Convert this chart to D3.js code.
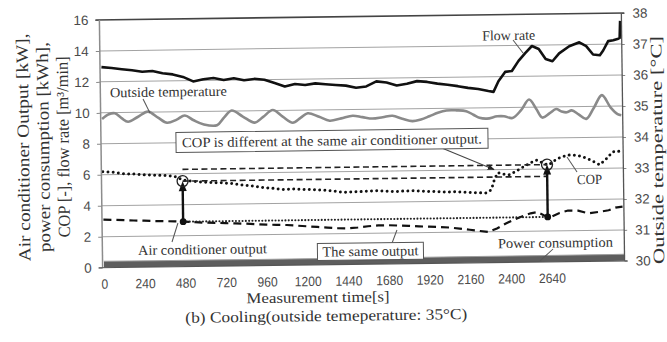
<!DOCTYPE html>
<html><head><meta charset="utf-8">
<script src="https://cdn.jsdelivr.net/npm/d3@7"></script>
<style>html,body{margin:0;padding:0;background:#fff;}svg{display:block;}</style>
</head><body>
<svg id="chart" width="667" height="342"></svg>
<script>
// ---------------- data ----------------
const xTicks = [0,240,480,720,960,1200,1440,1680,1920,2160,2400,2640];
const yLeftTicks = [0,2,4,6,8,10,12,14,16];
const yRightTicks = [30,31,32,33,34,35,36,37,38];

const flowTime = [0,60,120,180,240,300,360,420,480,540,600,660,720,780,840,900,960,1020,1080,1140,1200,1260,1320,1380,1440,1500,1560,1620,1680,1740,1800,1860,1920,1980,2040,2100,2160,2220,2280,2310,2340,2380,2420,2460,2500,2540,2580,2620,2660,2700,2760,2820,2860,2900,2940,2960,2990,3020,3050,3058,3062];
const flowRate = [12.95,12.88,12.8,12.72,12.62,12.66,12.5,12.42,12.25,11.95,12.08,12.15,12.02,12.12,11.98,12.06,12.0,11.78,11.55,11.7,11.62,11.72,11.66,11.6,11.55,11.4,11.48,11.8,11.72,11.52,11.62,11.78,11.72,11.6,11.52,11.42,11.3,11.22,11.08,11.02,11.7,12.3,12.35,13.0,13.5,13.95,13.75,13.1,12.95,13.45,13.9,14.15,13.9,13.35,13.3,13.6,14.2,14.25,14.35,14.4,15.5];

const tempTime = [0,40,76,115,153,210,271,330,383,440,488,540,600,677,720,765,830,900,950,1007,1065,1124,1170,1213,1280,1342,1410,1478,1535,1595,1655,1713,1770,1830,1880,1930,1980,2031,2090,2148,2190,2225,2270,2330,2370,2420,2470,2519,2560,2596,2640,2678,2710,2740,2770,2810,2855,2900,2949,3000,3040,3062];
const outsideTemp = [34.8,34.95,34.98,34.82,34.7,34.85,35.02,34.82,34.65,34.75,34.88,34.72,34.58,34.55,34.8,35.02,34.82,34.62,34.8,35.02,34.8,34.6,34.75,34.9,34.78,34.65,34.72,34.8,34.75,34.7,34.74,34.78,34.68,34.6,34.65,34.75,34.86,34.93,34.93,34.9,34.78,34.68,34.65,34.72,34.72,34.66,34.9,35.25,34.95,34.66,34.8,34.93,34.85,34.82,34.88,34.75,34.6,34.95,35.36,34.95,34.74,34.7];

const copTime = [0,60,120,180,240,300,360,420,470,520,580,640,700,760,820,880,940,1000,1060,1120,1180,1240,1300,1360,1420,1480,1540,1600,1660,1720,1780,1840,1900,1960,2020,2080,2140,2200,2260,2290,2310,2330,2360,2400,2440,2480,2520,2560,2600,2630,2680,2740,2800,2855,2900,2931,2970,3008,3040,3062];
const cop = [6.2,6.15,6.05,6.02,5.96,5.93,5.9,5.85,5.6,5.52,5.45,5.4,5.38,5.32,5.22,5.15,5.05,4.98,4.9,4.92,4.88,4.86,4.82,4.75,4.66,4.68,4.7,4.74,4.7,4.66,4.7,4.7,4.66,4.63,4.6,4.6,4.56,4.52,4.5,4.7,5.4,5.8,5.7,5.65,5.9,6.15,6.4,6.58,6.35,6.25,6.65,6.88,6.85,6.65,6.4,6.22,6.6,7.05,7.1,6.95];

const outTime = [0,60,120,180,240,300,360,420,480,540,600,660,720,780,840,900,960,1020,1080,1140,1200,1260,1320,1380,1440,1500,1560,1620,1680,1740,1800,1860,1920,1980,2040,2100,2160,2220,2270,2320,2370,2420,2460,2520,2560,2600,2637,2690,2740,2800,2860,2920,2980,3020,3062];
const acOutput = [3.1,3.08,3.05,3.02,3.0,2.97,2.95,2.93,2.9,2.86,2.82,2.8,2.77,2.75,2.72,2.68,2.64,2.62,2.6,2.55,2.5,2.45,2.4,2.35,2.33,2.38,2.45,2.5,2.5,2.47,2.44,2.4,2.37,2.34,2.3,2.22,2.14,2.05,1.98,2.2,2.5,2.75,2.92,3.15,3.22,3.0,2.89,3.15,3.3,3.28,3.1,3.18,3.28,3.45,3.5];

const powerTime = [0,300,600,900,1200,1500,1800,2100,2400,2700,3000,3070];
const powerCons = [0.42,0.41,0.41,0.4,0.4,0.4,0.4,0.41,0.41,0.42,0.42,0.42];

// comparison markers: same output, different COP
const markTime = [470, 2620];
const markCop = [5.52, 6.28];
const sameOutput = 2.9;

// ---------------- layout ----------------
const L = 101, R = 623, T = 16.5, B = 264.3;
const x = d3.scaleLinear().domain([0, 3070]).range([102.4, 623]);
const y = d3.scaleLinear().domain([0, 16]).range([B, T]);
const y2 = d3.scaleLinear().domain([30, 38]).range([B, T]);

const svg = d3.select('#chart');
svg.append('rect').attr('width', 667).attr('height', 342).attr('fill', '#ffffff');
const defs = svg.append('defs');
defs.append('clipPath').attr('id', 'plotclip').append('rect')
  .attr('x', L).attr('y', T - 12).attr('width', R - L).attr('height', B - T + 12);
defs.append('marker').attr('id', 'arr').attr('viewBox', '0 0 10 10')
  .attr('refX', 9).attr('refY', 5).attr('markerWidth', 7).attr('markerHeight', 7)
  .attr('markerUnits', 'userSpaceOnUse').attr('orient', 'auto')
  .append('path').attr('d', 'M0,1 L10,5 L0,9 Z').attr('fill', '#222');

const g = svg.append('g').attr('transform', 'rotate(-0.75,361,141)');
const serif = "'Liberation Serif','Times New Roman',serif";
const sans = "'Liberation Sans',Arial,sans-serif";

// gridlines
g.append('g').selectAll('line').data(yLeftTicks.filter(v => v > 0 && v < 16)).join('line')
  .attr('x1', L).attr('x2', R).attr('y1', d => y(d)).attr('y2', d => y(d))
  .attr('stroke', '#a3a3a3').attr('stroke-width', 1);

// axes
const axL = g.append('g').attr('transform', `translate(${L},0)`)
  .call(d3.axisLeft(y).tickValues(yLeftTicks).tickFormat(d3.format('d')).tickSize(4).tickPadding(7));
const axR = g.append('g').attr('transform', `translate(${R},0)`)
  .call(d3.axisRight(y2).tickValues(yRightTicks).tickFormat(d3.format('d')).tickSize(3).tickPadding(8));
const axB = g.append('g').attr('transform', `translate(0,${B})`)
  .call(d3.axisBottom(x).tickValues(xTicks).tickFormat(d3.format('d')).tickSize(0).tickPadding(11.5));
[axL, axR, axB].forEach(a => {
  a.select('.domain').remove();
  a.selectAll('line').attr('stroke', '#888');
  a.selectAll('text').attr('font-family', sans).attr('font-size', 13.5).attr('fill', '#4a4a4a')
    .attr('textLength', function () { return this.textContent.length * (a === axB ? 6.75 : 7.5); })
    .attr('lengthAdjust', 'spacingAndGlyphs');
});

const plot = g.append('g').attr('clip-path', 'url(#plotclip)');

// power consumption band
plot.append('path')
  .datum(powerTime.map((t, i) => [t, powerCons[i]]))
  .attr('d', d3.area().x(d => x(d[0])).y0(y(0)).y1(d => y(d[1])))
  .attr('fill', '#5e5e5e');
plot.append('path')
  .datum(powerTime.map((t, i) => [t, powerCons[i]]))
  .attr('d', d3.line().x(d => x(d[0])).y(d => y(d[1])))
  .attr('fill', 'none').attr('stroke', '#9d9d9d').attr('stroke-width', 1);

// outside temperature (right axis)
plot.append('path')
  .datum(tempTime.map((t, i) => [t, outsideTemp[i]]))
  .attr('d', d3.line().x(d => x(d[0])).y(d => y2(d[1])).curve(d3.curveCatmullRom))
  .attr('fill', 'none').attr('stroke', '#8a8a8a').attr('stroke-width', 2.6);

// flow rate
plot.append('path')
  .datum(flowTime.map((t, i) => [t, flowRate[i]]))
  .attr('d', d3.line().x(d => x(d[0])).y(d => y(d[1])))
  .attr('fill', 'none').attr('stroke', '#111').attr('stroke-width', 2.6).attr('stroke-linejoin', 'round');

// reference dashed COP levels
g.append('g').selectAll('line').data(markCop).join('line')
  .attr('x1', x(markTime[0])).attr('x2', x(markTime[1]))
  .attr('y1', d => y(d)).attr('y2', d => y(d))
  .attr('stroke', '#222').attr('stroke-width', 1.6).attr('stroke-dasharray', '6 3.5');

// same output dotted line
g.append('line')
  .attr('x1', x(markTime[0])).attr('x2', x(markTime[1]))
  .attr('y1', y(sameOutput)).attr('y2', y(sameOutput))
  .attr('stroke', '#222').attr('stroke-width', 2.1).attr('stroke-linecap', 'round').attr('stroke-dasharray', '0 3.3');

// air conditioner output (dashed)
plot.append('path')
  .datum(outTime.map((t, i) => [t, acOutput[i]]))
  .attr('d', d3.line().x(d => x(d[0])).y(d => y(d[1])))
  .attr('fill', 'none').attr('stroke', '#111').attr('stroke-width', 2.2).attr('stroke-dasharray', '8 5');

// COP (dotted)
plot.append('path')
  .datum(copTime.map((t, i) => [t, cop[i]]))
  .attr('d', d3.line().x(d => x(d[0])).y(d => y(d[1])))
  .attr('fill', 'none').attr('stroke', '#111').attr('stroke-width', 3)
  .attr('stroke-linecap', 'round').attr('stroke-dasharray', '0 5.2');

// vertical arrows with markers
markTime.forEach((t, i) => {
  const xx = x(t), yb = y(sameOutput), yt = y(markCop[i]);
  g.append('line').attr('x1', xx).attr('x2', xx).attr('y1', yb).attr('y2', yt + 8)
    .attr('stroke', '#111').attr('stroke-width', 2.4);
  g.append('path').attr('d', `M${xx},${yt} L${xx - 4},${yt + 10} L${xx + 4},${yt + 10} Z`).attr('fill', '#111');
  g.append('circle').attr('cx', xx).attr('cy', yb).attr('r', 3.4).attr('fill', '#111');
  g.append('circle').attr('cx', xx).attr('cy', yt).attr('r', 5.5)
    .attr('fill', 'none').attr('stroke', '#222').attr('stroke-width', 1.3);
});

// annotation leaders
const leaders = [
  [514.3, 42.0, 524.2, 55.1],
  [143.6, 96.1, 150.4, 110.2],
  [576.6, 174.8, 566.8, 159.7],
  [170.7, 239.5, 176.9, 220.6],
  [390.7, 243.4, 395.8, 230.5],
  [551.6, 251.5, 538.4, 263.3]
];
g.append('g').selectAll('line').data(leaders).join('line')
  .attr('x1', d => d[0]).attr('y1', d => d[1]).attr('x2', d => d[2]).attr('y2', d => d[3])
  .attr('stroke', '#555').attr('stroke-width', 1);
g.append('line').attr('x1', 442.9).attr('y1', 149.5).attr('x2', 493.6).attr('y2', 171.2)
  .attr('stroke', '#444').attr('stroke-width', 1).attr('marker-end', 'url(#arr)');

// annotation boxes
g.append('rect').attr('x', 176).attr('y', 130).attr('width', 312).attr('height', 20)
  .attr('fill', '#fff').attr('stroke', '#555').attr('stroke-width', 1);
g.append('rect').attr('x', 316).attr('y', 243).attr('width', 106).attr('height', 17)
  .attr('fill', '#fff').attr('stroke', '#555').attr('stroke-width', 1);

// annotation texts
const notes = [
  ['Flow rate', 510, 42, 53],
  ['Outside temperature', 169, 94, 117],
  ['COP is different at the same air conditioner output.', 332, 145, 300],
  ['COP', 589, 187, 25],
  ['Air conditioner output', 201, 252, 129],
  ['The same output', 369, 256, 96],
  ['Power consumption', 554, 250, 115]
];
g.append('g').selectAll('text').data(notes).join('text')
  .attr('x', d => d[1]).attr('y', d => d[2]).attr('text-anchor', 'middle')
  .attr('font-family', serif).attr('font-size', 14).attr('fill', '#333')
  .attr('textLength', d => d[3]).attr('lengthAdjust', 'spacingAndGlyphs')
  .text(d => d[0]);

// frame
g.append('line').attr('x1', L - 4).attr('x2', R + 3).attr('y1', T).attr('y2', T).attr('stroke', '#444').attr('stroke-width', 1.6);
g.append('line').attr('x1', L).attr('x2', L).attr('y1', T).attr('y2', B).attr('stroke', '#8c8c8c').attr('stroke-width', 1.5);
g.append('line').attr('x1', R).attr('x2', R).attr('y1', T).attr('y2', B).attr('stroke', '#555').attr('stroke-width', 1.3);
g.append('line').attr('x1', L - 4).attr('x2', R + 3).attr('y1', B).attr('y2', B).attr('stroke', '#555').attr('stroke-width', 1.2);

// axis titles
const yTitle = [
  ['Air conditioner Output [kW],', 28.9, 228],
  ['power consumption [kWh],', 49, 210],
  ['COP [-],  flow rate [m\u00B3/min]', 68.8, 181]
];
g.append('g').selectAll('text').data(yTitle).join('text')
  .attr('transform', d => `translate(${d[1]},143) rotate(-90)`)
  .attr('text-anchor', 'middle').attr('font-family', serif).attr('font-size', 17).attr('fill', '#333')
  .attr('textLength', d => d[2]).attr('lengthAdjust', 'spacingAndGlyphs')
  .text(d => d[0]);
g.append('text').attr('transform', 'translate(662.5,154) rotate(-90)')
  .attr('text-anchor', 'middle').attr('font-family', serif).attr('font-size', 16).attr('fill', '#333')
  .attr('textLength', 228).attr('lengthAdjust', 'spacingAndGlyphs')
  .text('Outside temperature  [\u00B0C]');
g.append('text').attr('x', 316).attr('y', 301.8).attr('text-anchor', 'middle')
  .attr('font-family', serif).attr('font-size', 15).attr('fill', '#333')
  .attr('textLength', 143).attr('lengthAdjust', 'spacingAndGlyphs')
  .text('Measurement time[s]');
g.append('text').attr('x', 324).attr('y', 320.5).attr('text-anchor', 'middle')
  .attr('font-family', serif).attr('font-size', 15.5).attr('fill', '#333')
  .attr('textLength', 282).attr('lengthAdjust', 'spacingAndGlyphs')
  .text('(b)  Cooling(outside temeperature: 35\u00B0C)');
</script>
</body></html>
